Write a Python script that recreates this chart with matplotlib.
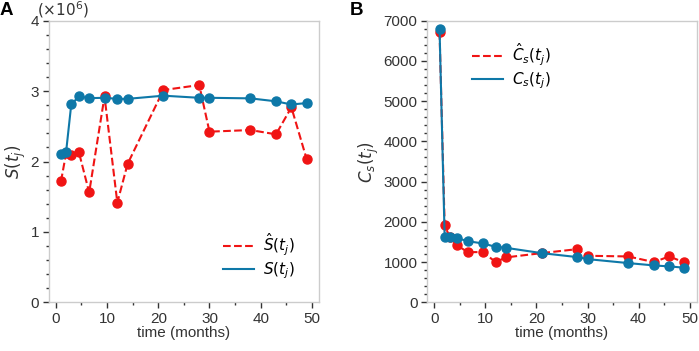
import matplotlib
matplotlib.use("Agg")
import matplotlib.pyplot as plt
from matplotlib.ticker import MultipleLocator

# time points (months)
t = [1, 2, 3, 4.5, 6.5, 9.5, 12, 14, 21, 28, 30, 38, 43, 46, 49]

# panel A, units of 1e6
S_hat = [1.72, 2.12, 2.09, 2.13, 1.56, 2.925, 1.415, 1.965, 3.015, 3.086,
         2.424, 2.447, 2.386, 2.77, 2.03]
S = [2.11, 2.14, 2.81, 2.925, 2.90, 2.905, 2.89, 2.89, 2.935, 2.905,
     2.905, 2.897, 2.855, 2.81, 2.83]

# panel B
C_hat = [6719, 1917, 1620, 1413, 1248, 1248, 1000, 1116, 1223, 1322,
         1157, 1140, 1000, 1140, 992]
C = [6802, 1620, 1620, 1595, 1520, 1463, 1380, 1355, 1223, 1124,
     1074, 975, 917, 893, 860]

RED = "#f01414"
BLUE = "#0e78a8"
GRAY = "#333333"

plt.rcParams["font.family"] = ["Liberation Sans", "DejaVu Sans"]
plt.rcParams["font.size"] = 11
plt.rcParams["mathtext.fontset"] = "dejavusans"

fig = plt.figure(figsize=(6.99, 3.51), dpi=100)
ax_a = fig.add_axes([0.0697, 0.1387, 0.3867, 0.8023])
ax_b = fig.add_axes([0.6113, 0.1387, 0.3854, 0.8023])


def style_axes(ax):
    for sp in ax.spines.values():
        sp.set_color("#cccccc")
        sp.set_linewidth(1.0)
    ax.tick_params(which="both", direction="out", colors=GRAY,
                   labelcolor=GRAY, width=1.0)
    ax.tick_params(which="major", length=4, pad=3)
    ax.tick_params(which="minor", length=2.5)
    ax.xaxis.set_major_locator(MultipleLocator(10))
    ax.xaxis.set_minor_locator(MultipleLocator(5))
    ax.set_xlabel("time (months)", color=GRAY, labelpad=0)


def legend_lines():
    return [plt.Line2D([], [], ls="--", color=RED, lw=1.5),
            plt.Line2D([], [], ls="-", color=BLUE, lw=1.5)]


# -------------------------------
# Panel A
# -------------------------------
ax_a.plot(t, S_hat, "--", color=RED, lw=1.5, marker="o", ms=6.5)
ax_a.plot(t, S, "-", color=BLUE, lw=1.5, marker="o", ms=6.5)
ax_a.set_ylim(0, 4)
ax_a.yaxis.set_major_locator(MultipleLocator(1))
ax_a.yaxis.set_minor_locator(MultipleLocator(0.2))
style_axes(ax_a)
ax_a.set_ylabel(r"$S(t_j)$", color=GRAY, labelpad=2, fontsize=12)
fig.text(37 / 699, 1 - 15 / 351, r"$(\times10^6)$", ha="left",
         va="baseline", color=GRAY, fontsize=11)
ax_a.legend(handles=legend_lines(),
            labels=[r"$\hat{S}(t_j)$", r"$S(t_j)$"],
            loc="lower right", bbox_to_anchor=(0.96, 0.027),
            frameon=False, labelspacing=0.15, handlelength=2.0,
            handletextpad=0.6)

# -------------------------------
# Panel B
# -------------------------------
ax_b.plot(t, C_hat, "--", color=RED, lw=1.5, marker="o", ms=6.5)
ax_b.plot(t, C, "-", color=BLUE, lw=1.5, marker="o", ms=6.5)
ax_b.set_ylim(0, 7000)
ax_b.yaxis.set_major_locator(MultipleLocator(1000))
ax_b.yaxis.set_minor_locator(MultipleLocator(200))
style_axes(ax_b)
ax_b.set_ylabel(r"$C_s(t_j)$", color=GRAY, labelpad=2, fontsize=12)
ax_b.legend(handles=legend_lines(),
            labels=[r"$\hat{C}_s(t_j)$", r"$C_s(t_j)$"],
            loc="upper left", bbox_to_anchor=(0.115, 0.975),
            frameon=False, labelspacing=0.15, handlelength=2.0,
            handletextpad=0.6)

fig.text(0.0, 0.993, "A", fontsize=13.5, fontweight="bold", va="top", ha="left")
fig.text(0.5007, 0.993, "B", fontsize=13.5, fontweight="bold", va="top", ha="left")

fig.savefig("out.png", dpi=100)
